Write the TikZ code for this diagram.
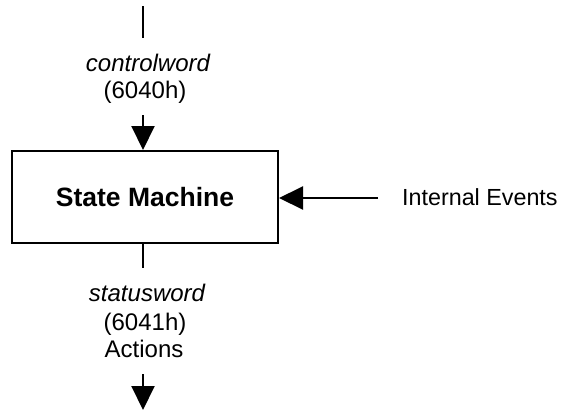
\documentclass[tikz,border=0pt]{standalone}
\usepackage{fontspec}
\setmainfont{Liberation Sans}
\usetikzlibrary{arrows.meta}
\tikzset{
  lbl/.style={inner sep=0pt, align=center, font=\fontsize{24}{29}\selectfont},
  smbox/.style={draw, line width=2pt, minimum width=266pt, minimum height=92pt, inner sep=0pt,
    font=\fontsize{26.5}{30}\selectfont\bfseries},
  wire/.style={line width=2pt},
  flow/.style={line width=2pt, -{Triangle[width=23pt,length=24pt]}},
}
\begin{document}
\begin{tikzpicture}[x=1pt, y=-1pt]
  \useasboundingbox (0,0) rectangle (564,413);
  % central block
  \node[smbox] (sm) at (145,197) {State Machine};
  % input from above
  \coordinate (cw0) at (143,6);
  \coordinate (cw1) at (143,38);
  \node[lbl, anchor=base] (cwname) at (148,71) {\itshape controlword};
  \node[lbl, anchor=base] (cwidx) at (145,98) {(6040h)};
  \coordinate (cw2) at (143,115);
  \draw[wire] (cw0) -- (cw1);
  \draw[flow] (cw2) -- (cw2 |- sm.north);
  % internal events from the right
  \node[lbl, anchor=base west, font=\fontsize{23.3}{28}\selectfont] (ev) at (402,205) {Internal Events};
  \coordinate (ev0) at (378,198);
  \draw[flow] (ev0) -- (ev0 -| sm.east);
  % output below
  \coordinate (sw0) at (143,268);
  \draw[wire] (sw0 |- sm.south) -- (sw0);
  \node[lbl, anchor=base] (swname) at (147,301) {\itshape statusword};
  \node[lbl, anchor=base] (swidx) at (145,330) {(6041h)};
  \node[lbl, anchor=base] (act) at (144,357) {Actions};
  \coordinate (sw1) at (143,374);
  \coordinate (sw2) at (143,410);
  \draw[flow] (sw1) -- (sw2);
\end{tikzpicture}
\end{document}
